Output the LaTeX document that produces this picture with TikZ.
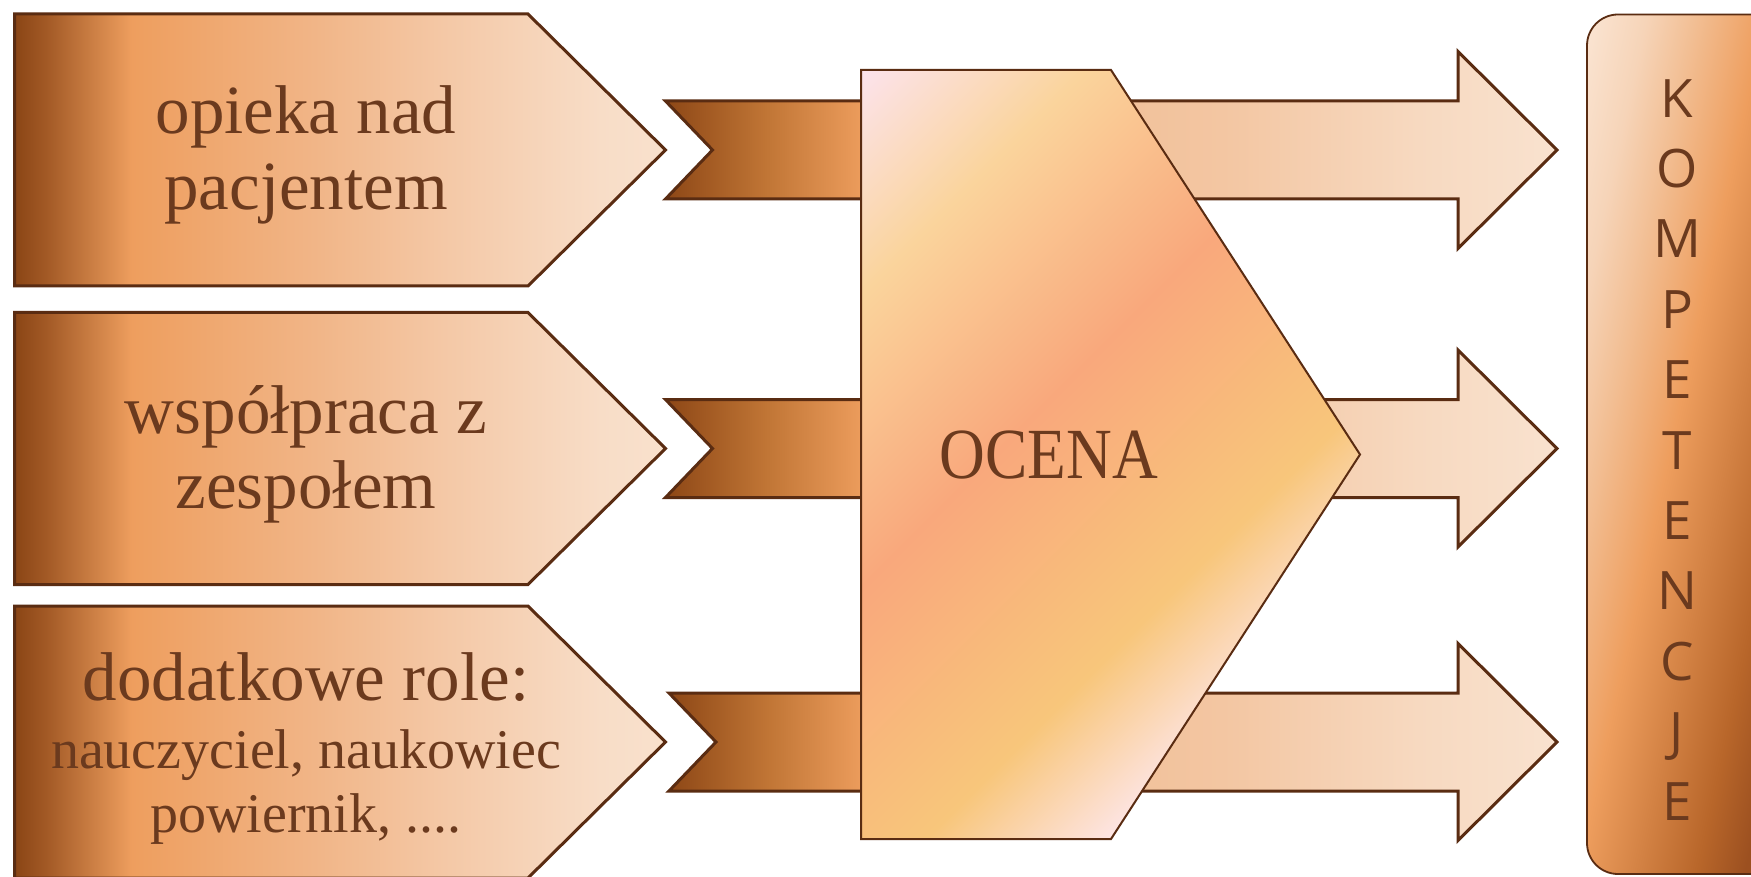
\documentclass[tikz,border=0pt]{standalone}
\usepackage{graphicx}
\usepackage{fontspec}
\setmainfont{Liberation Serif}
\newfontfamily\lettersfont{Open Sans}

% palette
\definecolor{txt}{HTML}{6B3A1E}
\definecolor{edge}{HTML}{5A2C12}
\definecolor{pA}{HTML}{8A4515}
\definecolor{pB}{HTML}{A35A26}
\definecolor{pC}{HTML}{EE9E5E}
\definecolor{pD}{HTML}{F1B587}
\definecolor{pE}{HTML}{F4C8A6}
\definecolor{pF}{HTML}{F8DDC7}
\definecolor{pG}{HTML}{F9E1CD}
\definecolor{iA}{HTML}{8D4716}
\definecolor{iB}{HTML}{C07535}
\definecolor{iC}{HTML}{EE9E5E}
\definecolor{oA}{HTML}{F0BC92}
\definecolor{oB}{HTML}{F3C6A2}
\definecolor{oC}{HTML}{F7D9C0}
\definecolor{oD}{HTML}{F9E2CF}
\definecolor{cA}{HTML}{FCE3EC}
\definecolor{cB}{HTML}{FAD49C}
\definecolor{cC}{HTML}{F9A87C}
\definecolor{cD}{HTML}{F8C67B}
\definecolor{cE}{HTML}{FDE4E2}
\definecolor{kA}{HTML}{FAE3D0}
\definecolor{kB}{HTML}{F6D4B8}
\definecolor{kC}{HTML}{F2BE93}
\definecolor{kD}{HTML}{EE9E5E}
\definecolor{kE}{HTML}{B8662A}
\definecolor{kF}{HTML}{9C5020}

% gradients (the shaded path's bounding box spans 25bp..75bp)
\pgfdeclarehorizontalshading{pentshade}{100bp}{color(0bp)=(pA); color(25bp)=(pA); color(27.5bp)=(pB); color(34bp)=(pC); color(48bp)=(pD); color(58bp)=(pE); color(70bp)=(pF); color(75bp)=(pG); color(100bp)=(pG)}
\pgfdeclarehorizontalshading{inshade}{100bp}{color(0bp)=(iA); color(25bp)=(iA); color(50bp)=(iB); color(75bp)=(iC); color(100bp)=(iC)}
\pgfdeclarehorizontalshading{outshade}{100bp}{color(0bp)=(oA); color(25bp)=(oA); color(45bp)=(oB); color(62.5bp)=(oC); color(75bp)=(oD); color(100bp)=(oD)}
\pgfdeclarehorizontalshading{ocenashade}{100bp}{color(0bp)=(cA); color(33.64bp)=(cA); color(40.8bp)=(cB); color(50.3bp)=(cC); color(60.5bp)=(cD); color(66.35bp)=(cE); color(100bp)=(cE)}
\pgfdeclarehorizontalshading{kompshade}{100bp}{color(0bp)=(kA); color(40.2bp)=(kA); color(43.08bp)=(kB); color(45.79bp)=(kC); color(49.53bp)=(kD); color(56.04bp)=(kE); color(58.64bp)=(kF); color(100bp)=(kF)}

\newcommand\bigtxt{\fontsize{69}{76}\selectfont}
\newcommand\smalltxt{\fontsize{56}{64}\selectfont}

\begin{document}
\begin{tikzpicture}[x=1pt,y=-1pt,line join=miter,
  boxedge/.style={draw=edge,line width=3pt},
  pent/.style={boxedge,shading=pentshade},
  inband/.style={boxedge,shading=inshade},
  outarrow/.style={boxedge,shading=outshade},
  lbl/.style={text=txt,anchor=base,inner sep=0pt},
  letter/.style={lbl,font=\lettersfont\fontsize{53}{53}\selectfont}]

\useasboundingbox (0,0) rectangle (1751,877);
\fill[white] (0,0) rectangle (1751,877);

% input pentagons
\foreach \c in {150,448.5,742}
  \shadedraw[pent] (14.5,\c-136) -- (528,\c-136) -- (665.5,\c) -- (528,\c+136) -- (14.5,\c+136) -- cycle;

% notched bands feeding the assessment block
\foreach \c/\l in {150/665.5,448.5/665.5,742/669}
  \shadedraw[inband] (\l,\c-49) -- (866,\c-49) -- (866,\c+49) -- (\l,\c+49) -- (\l+47,\c) -- cycle;

% output arrows
\foreach \c in {150,448.5,742}
  \shadedraw[outarrow] (1000,\c-49) -- (1458,\c-49) -- (1458,\c-98.5) -- (1557,\c) -- (1458,\c+98.5) -- (1458,\c+49) -- (1000,\c+49) -- cycle;

% assessment block
\begin{scope}
  \clip (861,70) -- (1111,70) -- (1360,454.5) -- (1111,839) -- (861,839) -- cycle;
  \shade[shading=ocenashade,shading angle=-45] (565.5,-225.5) rectangle (1665.5,874.5);
\end{scope}
\draw[edge,line width=2pt] (861,70) -- (1111,70) -- (1360,454.5) -- (1111,839) -- (861,839) -- cycle;
\node[lbl,font=\fontsize{72}{72}\selectfont] (ocena) at (1049,478) {\scalebox{0.88}[1]{OCENA}};

% competences bar
\begin{scope}
  \clip[rounded corners=31pt] (1587,14.5) rectangle (1780,874);
  \shade[shading=kompshade,shading angle=-12.4] (1230,-6) rectangle (2130,894);
\end{scope}
\draw[edge,line width=1.8pt,rounded corners=31pt] (1587,14.5) rectangle (1780,874);
\foreach \L [count=\i from 0] in {K,O,M,P,E,T,E,N,C,J,E}
  \node[letter] (k\i) at (1677,117.3+\i*70.35) {\L};

% pentagon labels
\node[lbl,font=\bigtxt] (p1a) at (306,134) {opieka nad};
\node[lbl,font=\bigtxt] (p1b) at (306,210) {pacjentem};
\node[lbl,font=\bigtxt] (p2a) at (306,433) {współpraca z};
\node[lbl,font=\bigtxt] (p2b) at (306,508) {zespołem};
\node[lbl,font=\bigtxt] (p3a) at (306,700) {dodatkowe role:};
\node[lbl,font=\smalltxt] (p3b) at (306,768) {nauczyciel, naukowiec};
\node[lbl,font=\smalltxt] (p3c) at (306,832) {powiernik, ....};
\end{tikzpicture}
\end{document}
